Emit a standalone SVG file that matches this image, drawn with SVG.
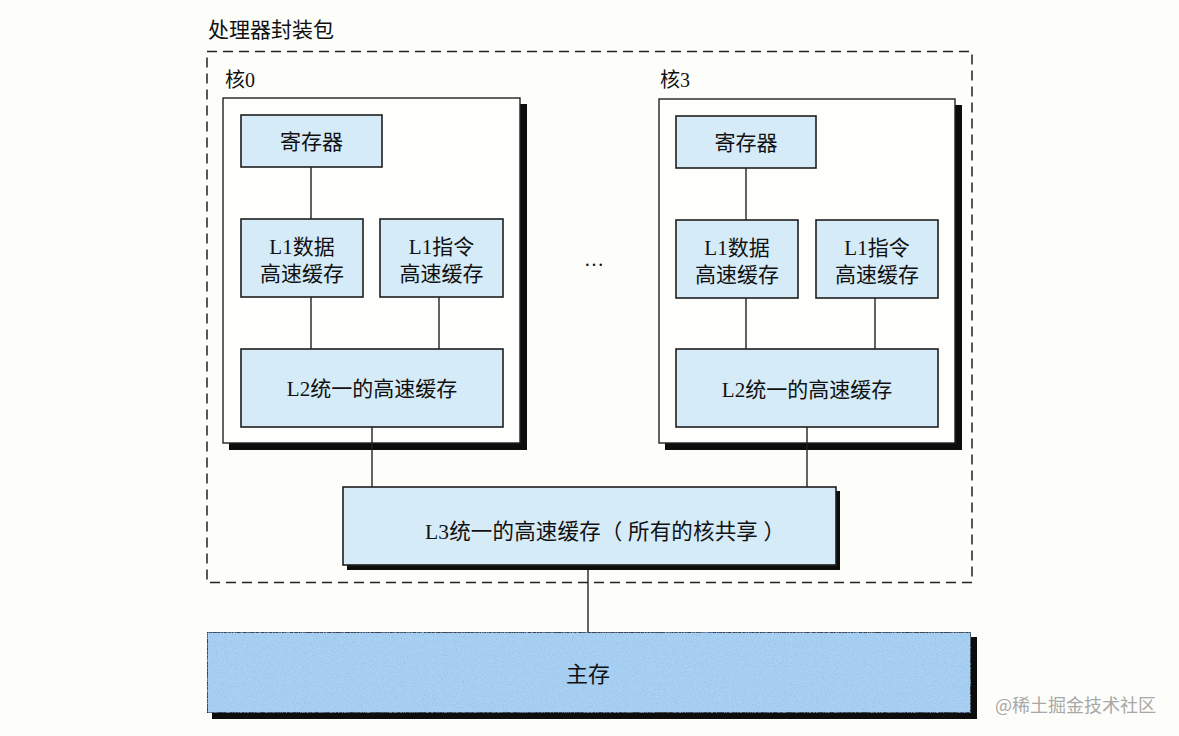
<svg xmlns="http://www.w3.org/2000/svg" width="1179" height="736" viewBox="0 0 1179 736">
<style>
.t{font-family:"Liberation Serif","Noto Sans CJK SC",serif;fill:#111}
.box{fill:#d5ebf8;stroke:#1e1e1e;stroke-width:1.6}
.core{fill:#fefefc;stroke:#222;stroke-width:1.4}
.sh{fill:#0d0d0d}
.ln{stroke:#222;stroke-width:1.4;fill:none}
</style>
<defs>
<filter id="noise" x="0" y="0" width="100%" height="100%">
<feTurbulence type="fractalNoise" baseFrequency="0.9" numOctaves="2" seed="3" result="n"/>
<feColorMatrix in="n" type="matrix" values="0 0 0 0 0.3  0 0 0 0 0.5  0 0 0 0 0.85  0 0 0 2.2 -1.0" result="c"/>
<feComposite in="c" in2="SourceGraphic" operator="in" result="cc"/>
<feMerge><feMergeNode in="SourceGraphic"/><feMergeNode in="cc"/></feMerge>
</filter>
</defs>
<rect width="1179" height="736" fill="#fdfdfa"/>

<g id="package">
<rect x="207" y="51.5" width="765" height="531" fill="none" stroke="#222" stroke-width="1.5" stroke-dasharray="10 6"/>
<text class="t" x="208" y="37" font-size="21">处理器封装包</text>
</g>

<g id="core0">
<rect class="sh" x="229" y="104" width="298" height="346"/>
<rect class="core" x="223" y="98" width="297" height="345"/>
<text class="t" x="225" y="87" font-size="20">核0</text>
</g>
<g id="core3">
<rect class="sh" x="665" y="105" width="297" height="345"/>
<rect class="core" x="659" y="99" width="296" height="344"/>
<text class="t" x="660" y="87" font-size="20">核3</text>
</g>

<g id="connectors">
<line class="ln" x1="311" y1="167" x2="311" y2="219"/>
<line class="ln" x1="311" y1="297" x2="311" y2="349"/>
<line class="ln" x1="439" y1="297" x2="439" y2="349"/>
<line class="ln" x1="372" y1="427" x2="372" y2="487"/>
<line class="ln" x1="746" y1="168" x2="746" y2="220"/>
<line class="ln" x1="746" y1="298" x2="746" y2="349"/>
<line class="ln" x1="875" y1="298" x2="875" y2="349"/>
<line class="ln" x1="807" y1="427" x2="807" y2="487"/>
<line class="ln" x1="588" y1="570" x2="588" y2="632"/>
</g>

<g id="reg0"><rect class="box" x="241" y="115" width="141" height="52"/><text class="t" x="311.5" y="149" font-size="21" text-anchor="middle">寄存器</text></g>
<g id="l1d0"><rect class="box" x="241" y="219" width="122" height="78"/><text class="t" x="302" y="254" font-size="21" text-anchor="middle">L1数据</text><text class="t" x="302" y="281" font-size="21" text-anchor="middle">高速缓存</text></g>
<g id="l1i0"><rect class="box" x="380" y="219" width="123" height="78"/><text class="t" x="441.5" y="254" font-size="21" text-anchor="middle">L1指令</text><text class="t" x="441.5" y="281" font-size="21" text-anchor="middle">高速缓存</text></g>
<g id="l20"><rect class="box" x="241" y="349" width="262" height="78"/><text class="t" x="372" y="396" font-size="21" text-anchor="middle">L2统一的高速缓存</text></g>

<g id="reg3"><rect class="box" x="676" y="116" width="140" height="52"/><text class="t" x="746" y="150" font-size="21" text-anchor="middle">寄存器</text></g>
<g id="l1d3"><rect class="box" x="676" y="220" width="122" height="78"/><text class="t" x="737" y="255" font-size="21" text-anchor="middle">L1数据</text><text class="t" x="737" y="282" font-size="21" text-anchor="middle">高速缓存</text></g>
<g id="l1i3"><rect class="box" x="816" y="220" width="122" height="78"/><text class="t" x="877" y="255" font-size="21" text-anchor="middle">L1指令</text><text class="t" x="877" y="282" font-size="21" text-anchor="middle">高速缓存</text></g>
<g id="l23"><rect class="box" x="676" y="349" width="262" height="78"/><text class="t" x="807" y="397" font-size="21" text-anchor="middle">L2统一的高速缓存</text></g>

<g id="dots"><text class="t" x="594" y="266" font-size="20" text-anchor="middle">…</text></g>

<g id="l3">
<rect class="sh" x="347" y="491" width="493" height="79"/>
<rect class="box" x="343" y="487" width="493" height="78"/>
<text class="t" x="425" y="539" font-size="21.5" textLength="360" lengthAdjust="spacing">L3统一的高速缓存（ 所有的核共享 ）</text>
</g>

<g id="mem">
<rect class="sh" x="212" y="637" width="765" height="82"/>
<rect x="207" y="632" width="764" height="81" fill="#a9d2f2" stroke="#1e1e1e" stroke-width="1.6" filter="url(#noise)"/>
<text class="t" x="588" y="682" font-size="22" text-anchor="middle">主存</text>
</g>

<text x="995" y="712" font-family="Noto Sans CJK SC, sans-serif" font-size="18" fill="#a8a8a8">@稀土掘金技术社区</text>
</svg>
